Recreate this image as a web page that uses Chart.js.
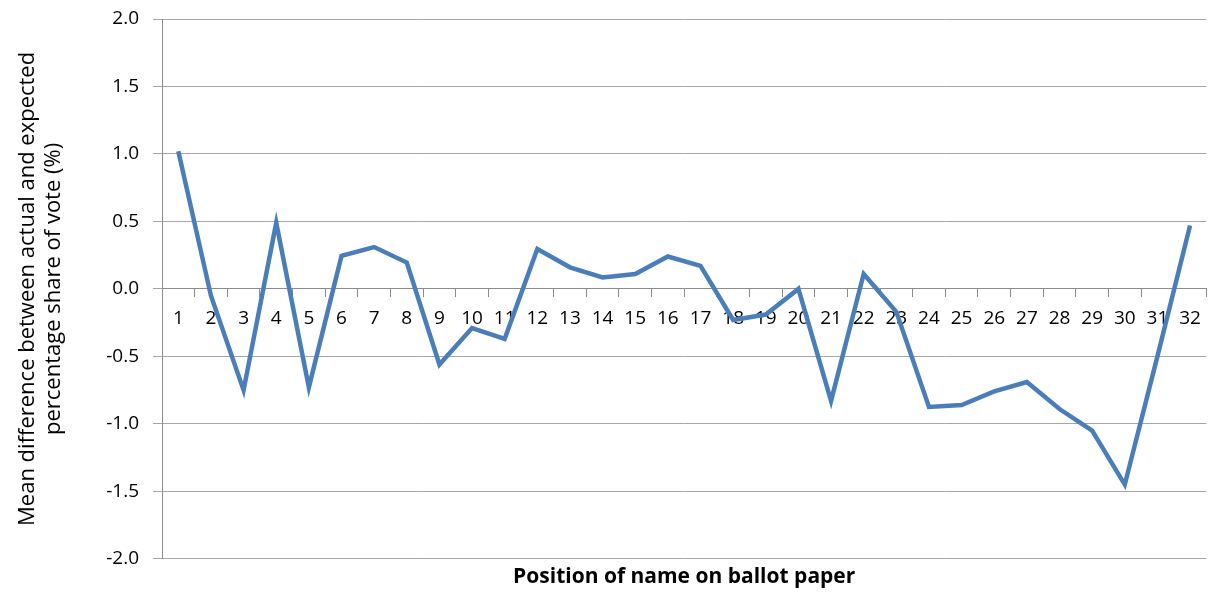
<!DOCTYPE html>
<html>
<head>
<meta charset="utf-8">
<script src="https://cdn.jsdelivr.net/npm/chart.js@4/dist/chart.umd.min.js"></script>
<style>
  html,body{margin:0;padding:0;background:#fff;}
  #wrap{width:1211px;height:592px;}
</style>
</head>
<body>
<div id="wrap"><canvas id="c"></canvas></div>
<script>
// ballot position vs. mean difference (actual - expected) share of vote
const positions = ['1','2','3','4','5','6','7','8','9','10','11','12','13','14','15','16',
  '17','18','19','20','21','22','23','24','25','26','27','28','29','30','31','32'];
const meanDiff = [1.02, -0.05, -0.75, 0.49, -0.73, 0.245, 0.31, 0.195, -0.56, -0.29, -0.37, 0.295,
  0.16, 0.085, 0.11, 0.24, 0.17, -0.23, -0.19, 0.0, -0.83, 0.11, -0.17, -0.875,
  -0.86, -0.76, -0.69, -0.89, -1.05, -1.45, -0.50, 0.47];
const yMin = -2, yMax = 2, yStep = 0.5;
const yTitle = ['Mean difference between actual and expected', 'percentage share of vote (%)'];
const xTitle = 'Position of name on ballot paper';

const FONT = '"Open Sans", sans-serif';
const GRID = '#a6a6a6';
const AXIS = '#8c8c8c';

new Chart(document.getElementById('c'), {
  type: 'line',
  data: {
    labels: positions,
    datasets: [{
      data: meanDiff,
      borderColor: '#4a7ebb',
      borderWidth: 4.5,
      pointRadius: 0,
      tension: 0,
      fill: false
    }]
  },
  options: {
    responsive: true,
    maintainAspectRatio: false,
    animation: false,
    layout: {padding: {left: 6, right: 4, top: 19, bottom: 0}},
    plugins: {
      legend: {display: false},
      tooltip: {enabled: false},
      title: {
        display: true, position: 'bottom', fullSize: false,
        text: xTitle, color: '#000',
        font: {family: FONT, size: 21, weight: 'bold'},
        padding: {top: 6, bottom: 2}
      }
    },
    scales: {
      x: {
        position: {y: 0},
        offset: true,
        grid: {display: true, drawOnChartArea: false, drawTicks: true, tickLength: 8, offset: true, color: AXIS},
        border: {display: true, color: AXIS, width: 1},
        ticks: {color: '#000', font: {family: FONT, size: 19}, padding: 10, maxRotation: 0, autoSkip: false}
      },
      y: {
        min: yMin, max: yMax,
        grid: {color: GRID, tickLength: 9, drawTicks: true},
        border: {display: true, color: AXIS, width: 1},
        ticks: {
          stepSize: yStep, color: '#000', padding: 14,
          font: {family: FONT, size: 19},
          callback: v => v.toFixed(1)
        },
        title: {
          display: true, text: yTitle, color: '#000',
          font: {family: FONT, size: 22, lineHeight: 1.18},
          padding: {top: 9, bottom: 0}
        },
        // tick padding is only for the horizontal gap, don't let it push the plot down
        afterFit: s => { s.width = 156; s.paddingTop = 5; s.paddingBottom = 5; }
      }
    }
  }
});
</script>
</body>
</html>
